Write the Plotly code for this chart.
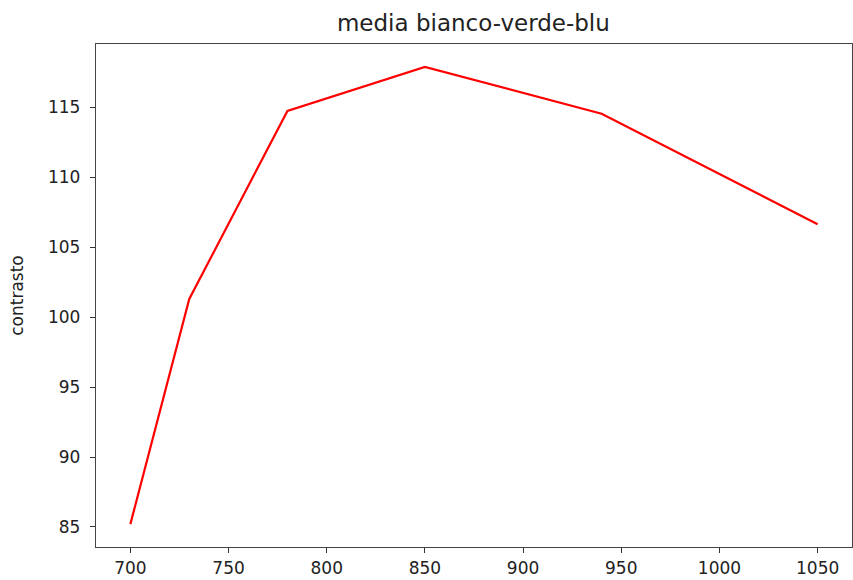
import plotly.graph_objects as go

# Wavelength samples and measured mean contrast
lunghezze = [700, 730, 780, 850, 940, 1050]
contrasto = [85.2, 101.3, 114.75, 117.9, 114.55, 106.65]

x_ticks = [700, 750, 800, 850, 900, 950, 1000, 1050]
y_ticks = [85, 90, 95, 100, 105, 110, 115]

fig = go.Figure()
fig.add_trace(go.Scatter(
    x=lunghezze, y=contrasto, mode="lines",
    line=dict(color="#ff0000", width=2.2),
    showlegend=False,
))

span_x = max(lunghezze) - min(lunghezze)
span_y = max(contrasto) - min(contrasto)

axis_common = dict(
    showgrid=False, zeroline=False,
    showline=True, linecolor="#444444", linewidth=1.3, mirror=True,
    ticks="outside", ticklen=5, tickwidth=1.2, tickcolor="#333333",
    tickfont=dict(family="DejaVu Sans", size=17, color="#222222"),
)

fig.update_layout(
    width=853, height=580,
    margin=dict(l=96, r=1, t=44, b=33),
    paper_bgcolor="white", plot_bgcolor="white",
    title=dict(text="media bianco-verde-blu", x=0.555, xanchor="center",
               y=1 - 23 / 580, yanchor="middle",
               font=dict(family="DejaVu Sans", size=23, color="#222222")),
    xaxis=dict(range=[min(lunghezze) - 0.05 * span_x, max(lunghezze) + 0.05 * span_x],
               tickvals=x_ticks, **axis_common),
    yaxis=dict(range=[min(contrasto) - 0.05 * span_y, max(contrasto) + 0.05 * span_y],
               tickvals=y_ticks, ticklabelstandoff=6,
               title=dict(text="contrasto", standoff=20,
                          font=dict(family="DejaVu Sans", size=17, color="#222222")),
               **axis_common),
)

fig.write_html("out.html")
